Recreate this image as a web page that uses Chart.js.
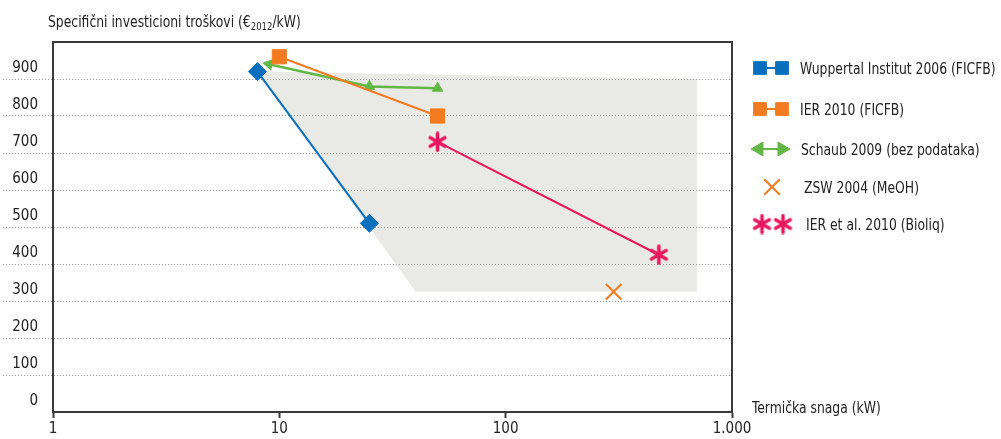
<!DOCTYPE html>
<html>
<head>
<meta charset="utf-8">
<title>Specifični investicioni troškovi</title>
<script src="https://cdn.jsdelivr.net/npm/chart.js@4/dist/chart.umd.min.js"></script>
<style>
  html, body { margin: 0; padding: 0; background: #fff; }
  #wrap { position: relative; width: 1001px; height: 439px; }
</style>
</head>
<body>
<div id="wrap"><canvas id="costChart" width="1001" height="439"></canvas></div>
<script>
// Chart data
const seriesNames = [
    'Wuppertal Institut 2006 (FICFB)',
    'IER 2010 (FICFB)',
    'Schaub 2009 (bez podataka)',
    'ZSW 2004 (MeOH)',
    'IER et al. 2010 (Bioliq)'
];
const wuppertalX = [8, 25];
const wuppertalY = [920, 510];
const ierX = [10, 50];
const ierY = [960, 800];
const schaubX = [9, 25, 50];
const schaubY = [940, 880, 875];
const zswX = [300];
const zswY = [325];
const bioliqX = [50, 475];
const bioliqY = [730, 425];
// shaded range of all estimates
const rangeX = [8, 700, 700, 40, 8];
const rangeY = [920, 900, 325, 325, 920];

const xTicks = [1, 10, 100, 1000];
const xTickLabels = ['1', '10', '100', '1.000'];
const yTitle = ['Specifični investicioni troškovi (€', '2012', '/kW)'];
const xTitle = 'Termička snaga (kW)';

const FONT = "'DejaVu Sans Condensed', 'Liberation Sans Narrow', sans-serif";
const TEXT_SX = 0.86; // squeeze custom text, the original face is narrower
const colors = {
    blue: '#0a6fbd',
    orange: '#f47b20',
    green: '#62b846',
    pink: '#e8175d',
    area: '#e9e9e5',
    axis: '#3a3a3a',
    grid: '#9a9a9a',
    text: '#222'
};

function toPoints(xs, ys) {
    return xs.map((x, i) => ({ x: x, y: ys[i] }));
}

// six armed asterisk used for the Bioliq points
function makeAsterisk(color, size) {
    const c = document.createElement('canvas');
    c.width = size;
    c.height = size;
    const g = c.getContext('2d');
    const m = size / 2;
    const r = m - 2;
    g.strokeStyle = color;
    g.lineWidth = 3.5;
    g.lineCap = 'round';
    [90, 30, 150].forEach(deg => {
        const a = deg * Math.PI / 180;
        g.beginPath();
        g.moveTo(m - Math.cos(a) * r, m - Math.sin(a) * r);
        g.lineTo(m + Math.cos(a) * r, m + Math.sin(a) * r);
        g.stroke();
    });
    return c;
}
const asterisk = makeAsterisk(colors.pink, 21);

// Legend sample shapes, one per named series
const legendSamples = [
    { kind: 'pair', style: 'rect', r: 9, y: 68, textX: 800 },
    { kind: 'pair', style: 'rect', r: 9, y: 109, textX: 800 },
    { kind: 'arrows', style: 'triangle', r: 8, y: 149, textX: 801 },
    { kind: 'single', style: 'crossRot', r: 11, y: 187, textX: 804 },
    { kind: 'stars', style: asterisk, r: 10, y: 224, textX: 806 }
];

function squeezedText(ctx, text, x, y, sx) {
    ctx.save();
    ctx.translate(x, y);
    ctx.scale(sx, 1);
    ctx.fillText(text, 0, 0);
    ctx.restore();
    return ctx.measureText(text).width * sx;
}

const decorPlugin = {
    id: 'decor',
    afterDraw(chart) {
        const { ctx, chartArea: a } = chart;
        const drawPoint = Chart.helpers.drawPoint;
        ctx.save();

        // top and right frame
        ctx.strokeStyle = colors.axis;
        ctx.lineWidth = 2;
        ctx.beginPath();
        ctx.moveTo(a.left, a.top);
        ctx.lineTo(a.right, a.top);
        ctx.lineTo(a.right, a.bottom);
        ctx.stroke();

        // y axis title with subscript
        ctx.fillStyle = colors.text;
        ctx.textBaseline = 'alphabetic';
        ctx.textAlign = 'left';
        let tx = 48;
        ctx.font = '16px ' + FONT;
        tx += squeezedText(ctx, yTitle[0], tx, 27, TEXT_SX);
        ctx.font = '11px ' + FONT;
        tx += squeezedText(ctx, yTitle[1], tx, 30, TEXT_SX);
        ctx.font = '16px ' + FONT;
        squeezedText(ctx, yTitle[2], tx, 27, TEXT_SX);

        // x axis title
        ctx.textBaseline = 'middle';
        squeezedText(ctx, xTitle, 752, 409, TEXT_SX);

        // legend
        seriesNames.forEach((name, i) => {
            const ds = chart.data.datasets[i + 1];
            const s = legendSamples[i];
            ctx.strokeStyle = ds.borderColor;
            ctx.fillStyle = ds.pointBackgroundColor;
            const opts = { pointStyle: s.style, radius: s.r, borderWidth: ds.pointBorderWidth, rotation: 0 };
            if (s.kind === 'pair') {
                ctx.lineWidth = 2;
                ctx.beginPath();
                ctx.moveTo(760, s.y);
                ctx.lineTo(782, s.y);
                ctx.stroke();
                ctx.lineWidth = ds.pointBorderWidth;
                drawPoint(ctx, opts, 760, s.y);
                drawPoint(ctx, opts, 782, s.y);
            } else if (s.kind === 'arrows') {
                ctx.lineWidth = 2;
                ctx.beginPath();
                ctx.moveTo(760, s.y);
                ctx.lineTo(782, s.y);
                ctx.stroke();
                ctx.lineWidth = 1;
                drawPoint(ctx, Object.assign({}, opts, { rotation: -90 }), 759, s.y);
                drawPoint(ctx, Object.assign({}, opts, { rotation: 90 }), 782, s.y);
            } else if (s.kind === 'stars') {
                drawPoint(ctx, opts, 762, s.y);
                drawPoint(ctx, opts, 783, s.y);
            } else {
                ctx.lineWidth = ds.pointBorderWidth;
                drawPoint(ctx, opts, 772, s.y);
            }
            ctx.fillStyle = colors.text;
            ctx.font = '16px ' + FONT;
            ctx.textBaseline = 'middle';
            squeezedText(ctx, name, s.textX, s.y + 2, TEXT_SX);
        });

        ctx.restore();
    }
};

function initializeCostChart() {
    const ctx = document.getElementById('costChart');

    new Chart(ctx, {
        type: 'scatter',
        data: {
            datasets: [
                {
                    label: 'range',
                    data: toPoints(rangeX, rangeY),
                    showLine: true,
                    fill: 'shape',
                    backgroundColor: colors.area,
                    borderWidth: 0,
                    borderColor: 'rgba(0,0,0,0)',
                    pointRadius: 0
                },
                {
                    label: seriesNames[0],
                    data: toPoints(wuppertalX, wuppertalY),
                    showLine: true,
                    borderColor: colors.blue,
                    borderWidth: 2,
                    pointStyle: 'rectRot',
                    pointRadius: 9,
                    pointBackgroundColor: colors.blue,
                    pointBorderColor: colors.blue,
                    pointBorderWidth: 1
                },
                {
                    label: seriesNames[1],
                    data: toPoints(ierX, ierY),
                    showLine: true,
                    borderColor: colors.orange,
                    borderWidth: 2,
                    pointStyle: 'rect',
                    pointRadius: 10,
                    pointBackgroundColor: colors.orange,
                    pointBorderColor: colors.orange,
                    pointBorderWidth: 1
                },
                {
                    label: seriesNames[2],
                    data: toPoints(schaubX, schaubY),
                    showLine: true,
                    borderColor: colors.green,
                    borderWidth: 2.5,
                    pointStyle: 'triangle',
                    pointRadius: 6,
                    pointRotation: [-78, 0, 0],
                    pointBackgroundColor: colors.green,
                    pointBorderColor: colors.green,
                    pointBorderWidth: 1
                },
                {
                    label: seriesNames[3],
                    data: toPoints(zswX, zswY),
                    showLine: false,
                    borderColor: colors.orange,
                    pointStyle: 'crossRot',
                    pointRadius: 11,
                    pointBackgroundColor: colors.orange,
                    pointBorderColor: colors.orange,
                    pointBorderWidth: 2
                },
                {
                    label: seriesNames[4],
                    data: toPoints(bioliqX, bioliqY),
                    showLine: true,
                    borderColor: colors.pink,
                    borderWidth: 2,
                    pointStyle: asterisk,
                    pointRadius: 10,
                    pointBackgroundColor: colors.pink,
                    pointBorderColor: colors.pink,
                    pointBorderWidth: 3
                }
            ]
        },
        options: {
            responsive: false,
            animation: false,
            events: [],
            layout: {
                padding: { top: 42, right: 269, left: 0, bottom: 0 }
            },
            elements: { line: { tension: 0 } },
            plugins: {
                legend: { display: false },
                tooltip: { enabled: false },
                filler: { drawTime: 'beforeDraw' }
            },
            scales: {
                x: {
                    type: 'logarithmic',
                    min: 1,
                    max: 1000,
                    afterBuildTicks: scale => {
                        scale.ticks = xTicks.map(v => ({ value: v }));
                    },
                    afterFit: scale => { scale.height = 27; },
                    grid: {
                        drawOnChartArea: false,
                        tickLength: 6,
                        tickColor: colors.axis,
                        tickWidth: 2
                    },
                    border: { color: colors.axis, width: 2 },
                    ticks: {
                        autoSkip: false,
                        maxRotation: 0,
                        padding: 2,
                        color: colors.text,
                        font: { family: FONT, size: 15 },
                        callback: value => {
                            const i = xTicks.indexOf(value);
                            return i >= 0 ? xTickLabels[i] : '';
                        }
                    }
                },
                y: {
                    min: 0,
                    max: 1000,
                    afterFit: scale => { scale.width = 53; },
                    grid: {
                        color: c => (c.tick && (c.tick.value === 0 || c.tick.value === 1000)) ? 'rgba(0,0,0,0)' : colors.grid,
                        tickColor: c => (c.tick && (c.tick.value === 0 || c.tick.value === 1000)) ? 'rgba(0,0,0,0)' : colors.grid,
                        tickLength: 50,
                        tickBorderDash: [1, 2],
                        lineWidth: 1
                    },
                    border: { color: colors.axis, width: 2, dash: [1, 2] },
                    ticks: {
                        stepSize: 100,
                        padding: -35,
                        labelOffset: -11,
                        color: colors.text,
                        font: { family: FONT, size: 15 },
                        callback: value => value === 1000 ? '' : String(value)
                    }
                }
            }
        },
        plugins: [decorPlugin]
    });
}

document.addEventListener('DOMContentLoaded', initializeCostChart);
</script>
</body>
</html>
